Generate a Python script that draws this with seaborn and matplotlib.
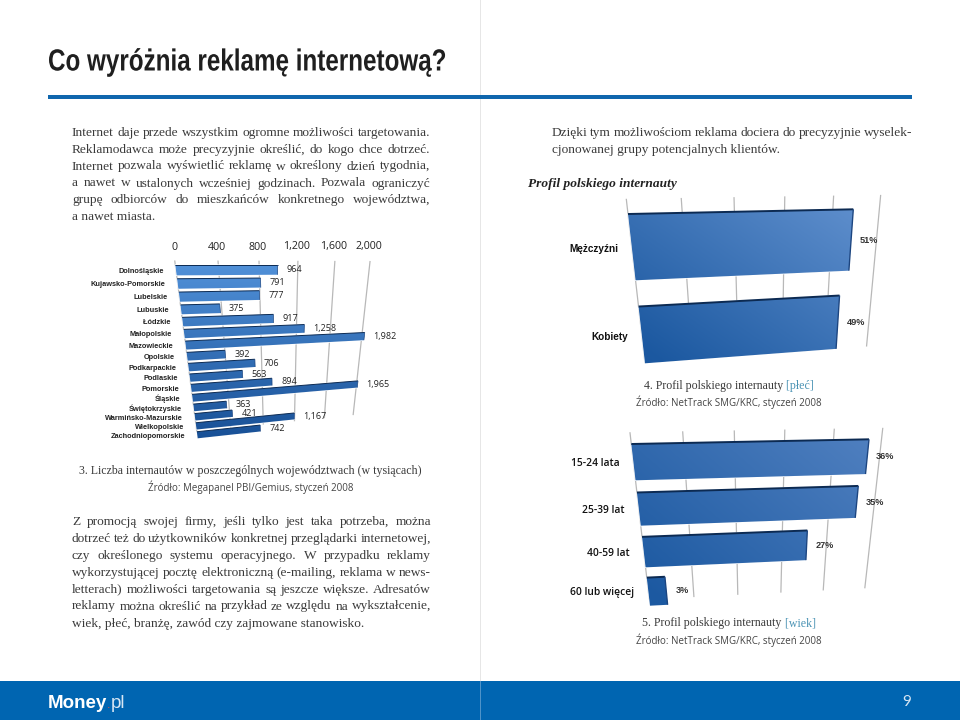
import numpy as np
import seaborn as sns
import matplotlib
matplotlib.use("Agg")
import matplotlib.pyplot as plt
import matplotlib.patheffects as pe
from matplotlib.path import Path
from matplotlib.patches import Rectangle
from matplotlib.transforms import Transform, Affine2D

# --- data ---
regiony = ["Dolnośląskie", "Kujawsko-Pomorskie", "Lubelskie", "Lubuskie", "Łódzkie", "Małopolskie",
           "Mazowieckie", "Opolskie", "Podkarpackie", "Podlaskie", "Pomorskie", "Śląskie",
           "Świętokrzyskie", "Warmińsko-Mazurskie", "Wielkopolskie", "Zachodniopomorskie"]
internauci = [964, 791, 777, 375, 917, 1258, 1982, 392, 706, 563, 894, 1965, 363, 421, 1167, 742]
ticks_regiony = [0, 400, 800, 1200, 1600, 2000]

plec = ["Mężczyźni", "Kobiety"]
plec_proc = [51, 49]
wiek = ["15-24 lata", "25-39 lat", "40-59 lat", "60 lub więcej"]
wiek_proc = [36, 35, 27, 3]

tytul = "Co wyróżnia reklamę internetową?"
akapit1 = ["Internet daje przede wszystkim ogromne możliwości targetowania.",
           "Reklamodawca może precyzyjnie określić, do kogo chce dotrzeć.",
           "Internet pozwala wyświetlić reklamę w określony dzień tygodnia,",
           "a nawet w ustalonych wcześniej godzinach. Pozwala ograniczyć",
           "grupę odbiorców do mieszkańców konkretnego województwa,",
           "a nawet miasta."]
akapit2 = ["Dzięki tym możliwościom reklama dociera do precyzyjnie wyselek-",
           "cjonowanej grupy potencjalnych klientów."]
akapit3 = ["Z promocją swojej firmy, jeśli tylko jest taka potrzeba, można",
           "dotrzeć też do użytkowników konkretnej przeglądarki internetowej,",
           "czy określonego systemu operacyjnego. W przypadku reklamy",
           "wykorzystującej pocztę elektroniczną (e-mailing, reklama w news-",
           "letterach) możliwości targetowania są jeszcze większe. Adresatów",
           "reklamy można określić na przykład ze względu na  wykształcenie,",
           "wiek, płeć, branżę, zawód czy zajmowane stanowisko."]

SERIF = "Liberation Serif"
SANS = "Open Sans"
TXT = "#3a3a3a"


class Perspektywa(Transform):
    # rzut (wartosc, wiersz) na piksele strony
    input_dims = output_dims = 2

    def __init__(self, src, dst):
        super().__init__()
        a = []
        for (x, y), (u, v) in zip(src, dst):
            a.append([x, y, 1, 0, 0, 0, -u * x, -u * y, -u])
            a.append([0, 0, 0, x, y, 1, -v * x, -v * y, -v])
        self.m = np.linalg.svd(np.array(a))[2][-1].reshape(3, 3)

    def transform_non_affine(self, xy):
        xy = np.asarray(xy, dtype=float)
        h = np.c_[xy, np.ones(len(xy))] @ self.m.T
        return h[:, :2] / h[:, 2:]


class Scisk(pe.AbstractPathEffect):
    # zwezenie napisu w poziomie (czcionka condensed nie jest dostepna)
    def __init__(self, sx):
        super().__init__()
        self.sx = sx

    def draw_path(self, renderer, gc, tpath, affine, rgbFace=None):
        renderer.draw_path(gc, tpath, Affine2D().scale(self.sx, 1) + affine, rgbFace)


sns.set_theme(style="white")
fig = plt.figure(figsize=(9.6, 7.2), dpi=100, facecolor="white")
page = fig.add_axes([0, 0, 1, 1], zorder=1)
page.set_axis_off()
page.patch.set_visible(False)
page.set_xlim(0, 960)
page.set_ylim(720, 0)
page.set_autoscale_on(False)
rend = fig.canvas.get_renderer()


def napis(x, y, s, size=9.6, family=SERIF, color=TXT, **kw):
    return page.text(x, y, s, fontsize=size, family=family, color=color, va=kw.pop("va", "baseline"), **kw)


def szer(t):
    return t.get_window_extent(rend).width


def dopasuj(x, y, s, w, **kw):
    t = napis(x, y, s, **kw)
    t.set_path_effects([Scisk(w / szer(t))])
    return t


def justuj(x0, x1, y, linia):
    slowa = linia.split()
    ts = [napis(x0, y, s) for s in slowa]
    ws = [szer(t) for t in ts]
    gap = (x1 - x0 - sum(ws)) / (len(slowa) - 1)
    x = x0
    for t, w in zip(ts, ws):
        t.set_x(x)
        x += w + gap


def akapit(x0, x1, ys, linie, ostatnia_wolna=True):
    for i, (y, l) in enumerate(zip(ys, linie)):
        if ostatnia_wolna and i == len(linie) - 1:
            napis(x0, y, l)
        else:
            justuj(x0, x1, y, l)


def podpis(xc, y, nr_tekst, klamra=None):
    t = napis(0, y, nr_tekst, size=8.6)
    w = szer(t)
    if klamra:
        k = napis(0, y, " " + klamra, size=8.6, color="#4a93b4")
        wk = szer(k)
        t.set_x(xc - (w + wk) / 2)
        k.set_x(xc - (w + wk) / 2 + w)
    else:
        t.set_x(xc - w / 2)


def wykres(kat, val, frame_src, frame_dst, width, siatka, grid_rows, kolory, krawedz, lw_top, off_val, off_kat,
           f_val, f_kat, fmt):
    # kazdy wykres ma wlasne ukryte osie, bo kategorie sa inne
    ax = fig.add_axes([0, 0, 1, 1], zorder=0)
    H = Perspektywa(frame_src, frame_dst)
    tr = H + page.transData
    sns.barplot(x=val, y=kat, color=kolory[1], width=width, ax=ax, orient="y")
    ax.set_axis_off()
    ax.vlines(siatka, grid_rows[0], grid_rows[1], colors="#b8b8b8", lw=0.9, transform=tr, zorder=0, clip_on=False)
    sciezki = []
    for p in ax.patches:
        p.set_transform(tr)
        p.set_clip_on(False)
        sciezki.append(H.transform_path(p.get_path().transformed(p.get_patch_transform())))
    # gradient na slupkach
    xs, ys = zip(*frame_dst)
    box = [min(xs) - 5, max(xs) + 5, max(ys) + 5, min(ys) - 5]
    gx, gy = np.meshgrid(np.linspace(0, 1, 64), np.linspace(0, 1, 64))
    g = np.clip(krawedz[0] * gx + krawedz[1] * (1 - gy) + krawedz[2], 0, 1)[..., None]
    c0 = np.array(matplotlib.colors.to_rgb(kolory[0]))
    c1 = np.array(matplotlib.colors.to_rgb(kolory[2]))
    im = page.imshow(c1 + (c0 - c1) * g, extent=box, aspect="auto", zorder=1, interpolation="bilinear")
    im.set_clip_path(Path.make_compound_path(*sciezki), page.transData)
    page.set_xlim(0, 960)
    page.set_ylim(720, 0)
    for r, v in enumerate(val):
        g_top = r - width / 2
        page.plot([0, v], [g_top, g_top], color="#0c2a52", lw=lw_top, transform=tr, zorder=2,
                  solid_capstyle="butt", clip_on=False)
        page.plot([v, v], [g_top, r + width / 2], color="#1c4580", lw=lw_top * 0.7, transform=tr, zorder=2,
                  solid_capstyle="butt", clip_on=False)
        xe, ye = H.transform(np.array([[v, r]]))[0]
        napis(xe + off_val, ye, fmt(v), va="center", **f_val)
        xl, yl = H.transform(np.array([[0, r]]))[0]
        napis(xl - off_kat, yl + 1, kat[r], va="center", ha="right", **f_kat)
    return H


# --- naglowek i tlo ---
page.add_patch(Rectangle((479.5, 0), 1, 720, color="#e6e6e6", lw=0, zorder=0))
page.add_patch(Rectangle((48, 95), 864, 3.5, color="#0f66ad", lw=0, zorder=1))
page.add_patch(Rectangle((0, 681), 960, 39, color="#0065b1", lw=0, zorder=1))
page.add_patch(Rectangle((479.5, 681), 1, 39, color="#4e93c9", lw=0, zorder=2))
dopasuj(48, 70.5, tytul, 398, size=22, family="Liberation Sans", weight="bold", color="#1f1f1f")

# --- teksty ---
akapit(72, 430, [136, 152.7, 169.5, 186.5, 203, 220], akapit1)
akapit(552, 912, [136, 152.5], akapit2)
napis(528, 187, "Profil polskiego internauty", weight="bold", style="italic", color="#222222")
akapit(72, 431, [525, 541.8, 559, 576, 592.7, 609.5, 626.7], akapit3)

podpis(250, 474, "3. Liczba internautów w poszczególnych województwach (w tysiącach)")
podpis(729, 389, "4. Profil polskiego internauty", "[płeć]")
podpis(729, 626, "5. Profil polskiego internauty", "[wiek]")
src = dict(size=7, family=SANS, color="#444444", ha="center")
napis(251, 490.5, "Źródło: Megapanel PBI/Gemius, styczeń 2008", **src)
napis(729, 406, "Źródło: NetTrack SMG/KRC, styczeń 2008", **src)
napis(729, 644, "Źródło: NetTrack SMG/KRC, styczeń 2008", **src)

# --- wykres 3: wojewodztwa ---
w = 0.75
H1 = wykres(regiony, internauci,
            [(0, -w / 2), (2000, -w / 2), (0, 15 + w / 2), (2000, 15 + w / 2)],
            [(175.3, 265), (374, 265), (197.7, 438.3), (356, 421)],
            w, np.array(ticks_regiony) * 0.975, (-0.7, 14.6),
            ("#5292da", "#2f6cb5", "#174f95"), (0.0, 1.0, 0.0), 0.7, 9, 12,
            dict(size=6.5, family=SANS, color="#222222"),
            dict(size=5.3, family="Liberation Sans", weight="bold", color="#222222"),
            lambda v: f"{v:,}")
# opisy osi leza nad siatka, a siatka jest lekko przesunieta wzgledem slupkow
poz = H1.transform(np.c_[np.array(ticks_regiony) * 0.955, np.full(6, -1.55)])
for v, xt in zip(ticks_regiony, poz):
    napis(xt[0] + 1, 247, f"{v:,}", size=7.7, family=SANS, weight="medium", color="#222222", ha="center", va="center")

# --- wykres 4: plec ---
w = 0.7
wykres(plec, plec_proc,
       [(0, -w / 2), (51, -w / 2), (0, 1 + w / 2), (51, 1 + w / 2)],
       [(628, 214), (853.3, 209.3), (645, 363.3), (843.3, 348.3)],
       w, np.arange(6) * 11.5, (-0.5, 1 + w / 2),
       ("#5f8fcd", "#2d66ad", "#1b58a0"), (0.55, 0.55, -0.1), 1.4, 9, 14,
       dict(size=6.6, family="Liberation Sans", weight="bold", color="#333333"),
       dict(size=7.2, family="Liberation Sans", weight="bold", color="#111111"),
       lambda v: f"{v}%")

# --- wykres 5: wiek ---
w = 0.74
wykres(wiek, wiek_proc,
       [(0, -w / 2), (36, -w / 2), (0, 3 + w / 2), (36, 3 + w / 2)],
       [(631.3, 444), (869, 439.3), (650, 605.7), (853.3, 595)],
       w, np.arange(6) * 7.6, (-0.6, 3.2),
       ("#5080c0", "#2d66ad", "#1c59a1"), (0.6, 0.5, -0.1), 1.4, 9, 14,
       dict(size=6.6, family="Liberation Sans", weight="bold", color="#333333"),
       dict(size=7.4, family="Open Sans", weight="semibold", color="#111111"),
       lambda v: f"{v}%")

# --- stopka ---
napis(48, 708, "Money", size=13.5, family="Liberation Sans", weight="bold", color="white")
napis(107, 708, ".", size=9, family="Liberation Sans", color="#e0524a")
napis(110.5, 708, "pl", size=13.5, family="Liberation Sans", color="#d7e6f4")
napis(907, 702, "9", size=11, family="Lato", color="#d7e6f4", ha="center", va="center")

fig.savefig("out.png", dpi=100)
